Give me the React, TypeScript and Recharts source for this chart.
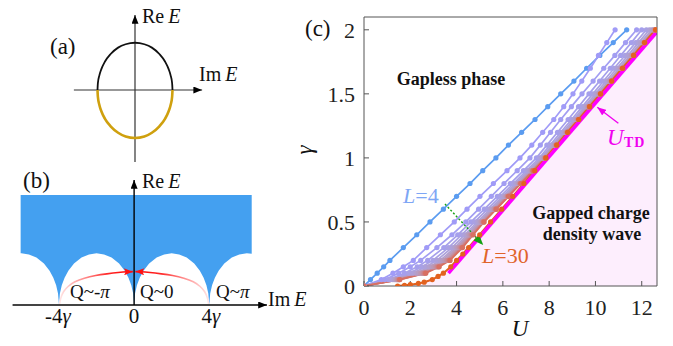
import React from 'react';
import { ComposedChart, Line, Area, XAxis, YAxis } from 'recharts';

const SERIF = '"Liberation Serif", "Times New Roman", Times, serif';

// ---------------- panel (a) ----------------
const ellipseX = [-1, -0.99, -0.95, -0.9, -0.8, -0.65, -0.45, -0.25, 0, 0.25, 0.45, 0.65, 0.8, 0.9, 0.95, 0.99, 1];
const ellipseUpper = [0, 0.18, 0.39, 0.55, 0.76, 0.96, 1.13, 1.22, 1.26, 1.22, 1.13, 0.96, 0.76, 0.55, 0.39, 0.18, 0];
const ellipseLower = [0, -0.18, -0.4, -0.56, -0.77, -0.97, -1.14, -1.24, -1.28, -1.24, -1.14, -0.97, -0.77, -0.56, -0.4, -0.18, 0];
const axisAHx = [-1.63, 1.79];
const axisAHy = [0, 0];
const axisAVx = [0, 0];
const axisAVy = [-1.92, 2.0];

// ---------------- panel (b) ----------------
const archCenters = [-6, -2, 2, 6];
const archOffsets = [-2, -1.95, -1.85, -1.7, -1.5, -1.2, -0.8, -0.4, 0, 0.4, 0.8, 1.2, 1.5, 1.7, 1.85, 1.95, 2];
const archHeights = [0, 0.61, 1.05, 1.45, 1.83, 2.21, 2.53, 2.7, 2.76, 2.7, 2.53, 2.21, 1.83, 1.45, 1.05, 0.61, 0];
const bandEdgesX = [-6.04, 6.26];
const bandEdgesLow = [2.76, 2.74];
const bandTop = 5.87;
const arcLeftX = [-3.97, -3.9, -3.75, -3.5, -3.15, -2.65, -2.05, -1.45, -0.85, -0.35, -0.07];
const arcRightX = [3.97, 3.9, 3.75, 3.5, 3.15, 2.65, 2.05, 1.45, 0.85, 0.35, 0.07];
const arcY = [0.05, 0.38, 0.72, 1.0, 1.24, 1.43, 1.57, 1.66, 1.73, 1.77, 1.78];
const axisBHx = [-6.47, 7.07];
const axisBHy = [0, 0];
const axisBVx = [0, 0];
const axisBVy = [0, 6.67];

// ---------------- panel (c) ----------------
const uTicks = [0, 2, 4, 6, 8, 10, 12];
const gTicks = [0, 0.5, 1, 1.5, 2];
const sizesL = [4, 6, 8, 10, 12, 14, 16, 18, 20, 22, 24, 26, 28, 30];
const gammaGrid = [0, 0.05, 0.1, 0.15, 0.2, 0.3, 0.4, 0.5, 0.6, 0.7, 0.8, 0.9, 1.0, 1.1, 1.2, 1.3, 1.4, 1.5, 1.6, 1.7, 1.8, 1.9, 2.0];
const gamma30 = [0, 0.005, 0.01, 0.02, 0.03, 0.05, 0.075, 0.1, 0.15, 0.2, 0.25, 0.3, 0.4, 0.5, 0.6, 0.7, 0.8, 0.9, 1.0, 1.1, 1.2, 1.3, 1.4, 1.5, 1.6, 1.7, 1.8, 1.9, 2.0];
const U_L4 = [0, 0.28, 0.57, 0.85, 1.12, 1.7, 2.28, 2.85, 3.43, 4.0, 4.58, 5.13, 5.7, 6.24, 6.81, 7.39, 7.94, 8.5, 9.07, 9.62, 10.19, 10.77, 11.35];
const U_L6 = [0, 0.75, 1.25, 1.7, 2.13, 2.71, 3.3, 3.9, 4.45, 5.01, 5.59, 6.18, 6.74, 7.25, 7.72, 8.2, 8.63, 9.03, 9.41, 9.78, 10.13, 10.49, 10.85];
const U_L8 = [0, 0.9, 1.5, 2.0, 2.45, 3.15, 3.8, 4.4, 4.95, 5.5, 6.05, 6.62, 7.17, 7.62, 8.06, 8.5, 8.96, 9.42, 9.9, 10.36, 10.84, 11.3, 11.78];
const U_L10 = [0, 1.05, 1.75, 2.3, 2.75, 3.45, 4.05, 4.62, 5.2, 5.76, 6.32, 6.89, 7.45, 7.9, 8.36, 8.82, 9.27, 9.72, 10.18, 10.64, 11.09, 11.55, 12.0];
const U_L12 = [0, 1.15, 1.95, 2.5, 2.98, 3.65, 4.22, 4.78, 5.34, 5.9, 6.46, 7.02, 7.58, 8.04, 8.5, 8.97, 9.43, 9.89, 10.35, 10.81, 11.28, 11.74, 12.2];
const U_L14 = [0, 1.25, 2.1, 2.67, 3.15, 3.8, 4.35, 4.9, 5.45, 6.0, 6.55, 7.1, 7.66, 8.13, 8.59, 9.06, 9.53, 10.0, 10.46, 10.93, 11.4, 11.86, 12.33];
const U_L16 = [0, 1.32, 2.25, 2.82, 3.3, 3.92, 4.45, 4.98, 5.52, 6.07, 6.62, 7.17, 7.72, 8.19, 8.66, 9.13, 9.6, 10.08, 10.55, 11.02, 11.49, 11.96, 12.43];
const U_L18 = [0, 1.38, 2.35, 2.93, 3.4, 4.0, 4.52, 5.04, 5.58, 6.12, 6.67, 7.21, 7.76, 8.23, 8.71, 9.18, 9.66, 10.13, 10.6, 11.08, 11.55, 12.03, 12.5];
const U_L20 = [0, 1.42, 2.45, 3.02, 3.5, 4.07, 4.57, 5.08, 5.62, 6.16, 6.71, 7.25, 7.79, 8.27, 8.74, 9.22, 9.69, 10.17, 10.64, 11.12, 11.59, 12.07, 12.54];
const U_L22 = [0, 1.46, 2.52, 3.1, 3.57, 4.13, 4.62, 5.12, 5.65, 6.19, 6.73, 7.27, 7.81, 8.29, 8.76, 9.24, 9.72, 10.19, 10.67, 11.14, 11.62, 12.1, 12.57];
const U_L24 = [0, 1.5, 2.58, 3.16, 3.63, 4.18, 4.66, 5.15, 5.68, 6.21, 6.75, 7.29, 7.83, 8.31, 8.78, 9.26, 9.73, 10.21, 10.69, 11.16, 11.64, 12.11, 12.59];
const U_L26 = [0, 1.53, 2.63, 3.21, 3.68, 4.22, 4.69, 5.17, 5.7, 6.23, 6.77, 7.3, 7.84, 8.32, 8.79, 9.27, 9.74, 10.22, 10.7, 11.17, 11.65, 12.12, 12.6];
const U_L28 = [0, 1.55, 2.67, 3.25, 3.72, 4.26, 4.72, 5.19, 5.72, 6.25, 6.78, 7.32, 7.85, 8.33, 8.8, 9.28, 9.75, 10.23, 10.7, 11.18, 11.65, 12.13, 12.6];
const U_L30 = [1.45, 1.75, 2.0, 2.35, 2.6, 2.95, 3.2, 3.43, 3.75, 4.0, 4.27, 4.52, 5.0, 5.47, 5.95, 6.43, 6.91, 7.38, 7.86, 8.33, 8.8, 9.28, 9.75, 10.22, 10.7, 11.17, 11.65, 12.12, 12.6];
const U_byL = [U_L4, U_L6, U_L8, U_L10, U_L12, U_L14, U_L16, U_L18, U_L20, U_L22, U_L24, U_L26, U_L28, U_L30];
const colorsL = ['#5B9CF0', '#A09BF7', '#A29DF2', '#A59FEC', '#A9A1E4', '#ADA1DA', '#B1A0CF', '#B69DC3', '#BB99B5', '#C292A6', '#C98994', '#D07D7E', '#D87062', '#E2621F'];
const utdU = [3.65, 12.66];
const utdG = [0.1, 1.985];
const greenArrowU = [3.5, 5.15];
const greenArrowG = [0.64, 0.32];
const utdArrowU = [10.99, 10.08];
const utdArrowG = [1.27, 1.395];
const pinkEdgeU = [12.66];
const pinkEdgeG = [2.0];

// ---------- built tables ----------
const zipXY = (xs: number[], ys: number[]) => xs.map((x, i) => ({ x, y: ys[i] }));
const zipUG = (us: number[], gs: number[]) => us.map((u, i) => ({ u, g: gs[i] }));

const upperData = zipXY(ellipseX, ellipseUpper);
const lowerData = zipXY(ellipseX, ellipseLower);
const axisAH = zipXY(axisAHx, axisAHy);
const axisAV = zipXY(axisAVx, axisAVy);

const blueData: { x: number; range: number[] }[] = [];
blueData.push({ x: bandEdgesX[0], range: [bandEdgesLow[0], bandTop] });
archCenters.forEach((c) => {
  archOffsets.forEach((o, i) => {
    const x = c + o;
    if (x >= bandEdgesX[0] && x <= bandEdgesX[1]) blueData.push({ x, range: [archHeights[i], bandTop] });
  });
});
blueData.push({ x: bandEdgesX[1], range: [bandEdgesLow[1], bandTop] });
const arcLeft = zipXY(arcLeftX, arcY);
const arcRight = zipXY(arcRightX, arcY);
const axisBH = zipXY(axisBHx, axisBHy);
const axisBV = zipXY(axisBVx, axisBVy);

const curves = sizesL.map((L, i) => {
  const gs = L === 30 ? gamma30 : gammaGrid;
  return { L, color: colorsL[i], data: gs.map((g, j) => ({ u: U_byL[i][j], g })) };
});
const orangeCurve = curves[curves.length - 1].data;
const pinkData = [...orangeCurve, ...zipUG(pinkEdgeU, pinkEdgeG)];
const utdData = zipUG(utdU, utdG);
const greenArrow = zipUG(greenArrowU, greenArrowG);
const utdArrow = zipUG(utdArrowU, utdArrowG);

const tickStyle = { fontSize: 22, fontFamily: SERIF, fill: '#222' };

export default function App() {
  return (
    <div style={{ position: 'absolute', left: 0, top: 0, width: 673, height: 346, background: '#fff', overflow: 'hidden' }}>
      <svg width={0} height={0} style={{ position: 'absolute' }}>
        <defs>
          <marker id="ahBlack" viewBox="0 0 10 8" refX="10" refY="4" markerWidth="9" markerHeight="7" markerUnits="userSpaceOnUse" orient="auto">
            <path d="M0,0 L10,4 L0,8 Z" fill="#000" />
          </marker>
          <marker id="ahRed" viewBox="0 0 10 8" refX="10" refY="4" markerWidth="10" markerHeight="7" markerUnits="userSpaceOnUse" orient="auto">
            <path d="M0,0 L10,4 L0,8 L2,4 Z" fill="#FF1010" />
          </marker>
          <marker id="ahGreen" viewBox="0 0 10 8" refX="10" refY="4" markerWidth="10" markerHeight="8" markerUnits="userSpaceOnUse" orient="auto">
            <path d="M0,0 L10,4 L0,8 Z" fill="#12A012" />
          </marker>
          <marker id="ahMagenta" viewBox="0 0 10 8" refX="10" refY="4" markerWidth="9" markerHeight="7" markerUnits="userSpaceOnUse" orient="auto">
            <path d="M0,0 L10,4 L0,8 Z" fill="#F000F0" />
          </marker>
          <linearGradient id="redL" x1="0" y1="0" x2="1" y2="0">
            <stop offset="0" stopColor="#FFE4E4" />
            <stop offset="0.35" stopColor="#FF8A8A" />
            <stop offset="0.65" stopColor="#FF2A2A" />
            <stop offset="1" stopColor="#FF0000" />
          </linearGradient>
          <linearGradient id="redR" x1="1" y1="0" x2="0" y2="0">
            <stop offset="0" stopColor="#FFE4E4" />
            <stop offset="0.35" stopColor="#FF8A8A" />
            <stop offset="0.65" stopColor="#FF2A2A" />
            <stop offset="1" stopColor="#FF0000" />
          </linearGradient>
        </defs>
      </svg>

      {/* panel (a) */}
      <div style={{ position: 'absolute', left: 60, top: 0 }}>
        <ComposedChart width={150} height={165} margin={{ top: 0, right: 0, bottom: 0, left: 0 }}>
          <XAxis type="number" dataKey="x" domain={[-2, 2]} hide allowDataOverflow />
          <YAxis type="number" domain={[-2, 2.4]} hide allowDataOverflow />
          <Line data={axisAH} dataKey="y" type="linear" stroke="#333" strokeWidth={1.2} dot={false} activeDot={false} isAnimationActive={false} markerEnd="url(#ahBlack)" />
          <Line data={axisAV} dataKey="y" type="linear" stroke="#333" strokeWidth={1.2} dot={false} activeDot={false} isAnimationActive={false} markerEnd="url(#ahBlack)" />
          <Line data={upperData} dataKey="y" type="monotone" stroke="#111" strokeWidth={1.8} dot={false} activeDot={false} isAnimationActive={false} />
          <Line data={lowerData} dataKey="y" type="monotone" stroke="#CFA00E" strokeWidth={2.6} dot={false} activeDot={false} isAnimationActive={false} />
        </ComposedChart>
      </div>

      {/* panel (b) */}
      <div style={{ position: 'absolute', left: 12, top: 170 }}>
        <ComposedChart width={263} height={150} margin={{ top: 0, right: 0, bottom: 0, left: 0 }}>
          <XAxis type="number" dataKey="x" domain={[-6.5, 7.5]} hide allowDataOverflow />
          <YAxis type="number" domain={[-0.8, 7.2]} hide allowDataOverflow />
          <Area data={blueData} dataKey="range" type="linear" fill="#44A0F0" fillOpacity={1} stroke="none" isAnimationActive={false} activeDot={false} />
          <Line data={arcLeft} dataKey="y" type="natural" stroke="url(#redL)" strokeWidth={1.6} dot={false} activeDot={false} isAnimationActive={false} markerEnd="url(#ahRed)" />
          <Line data={arcRight} dataKey="y" type="natural" stroke="url(#redR)" strokeWidth={1.6} dot={false} activeDot={false} isAnimationActive={false} markerEnd="url(#ahRed)" />
          <Line data={axisBH} dataKey="y" type="linear" stroke="#444" strokeWidth={2} dot={false} activeDot={false} isAnimationActive={false} markerEnd="url(#ahBlack)" />
          <Line data={axisBV} dataKey="y" type="linear" stroke="#000" strokeWidth={1.4} dot={false} activeDot={false} isAnimationActive={false} markerEnd="url(#ahBlack)" />
        </ComposedChart>
      </div>

      {/* panel (c) */}
      <div style={{ position: 'absolute', left: 290, top: 0 }}>
        <ComposedChart width={383} height={346} margin={{ top: 16, right: 15, bottom: 0, left: 0 }}>
          <XAxis type="number" dataKey="u" domain={[0, 12.66]} allowDataOverflow ticks={uTicks} interval={0} tickSize={-5} tickMargin={18} height={60} stroke="#555" tick={tickStyle} />
          <YAxis type="number" domain={[0, 2.1]} allowDataOverflow ticks={gTicks} interval={0} tickSize={-5} tickMargin={14} width={74} stroke="#555" tick={tickStyle} />
          <XAxis xAxisId="top" orientation="top" type="number" dataKey="u" domain={[0, 12.66]} allowDataOverflow ticks={uTicks} interval={0} tickSize={-5} height={1} stroke="#555" tick={false} />
          <YAxis yAxisId="right" orientation="right" type="number" domain={[0, 2.1]} allowDataOverflow ticks={gTicks} interval={0} tickSize={-5} width={1} stroke="#555" tick={false} />
          <Area data={pinkData} dataKey="g" type="linear" fill="#FDEEFD" fillOpacity={1} stroke="none" isAnimationActive={false} activeDot={false} />
          {curves.map((c) => (
            <Line
              key={c.L}
              data={c.data}
              dataKey="g"
              type="linear"
              stroke={c.color}
              strokeWidth={c.L === 30 ? 2.1 : 1.7}
              dot={{ r: 2.6, fill: c.color, stroke: c.color, strokeWidth: 0 }}
              activeDot={false}
              isAnimationActive={false}
            />
          ))}
          <Line data={utdData} dataKey="g" type="linear" stroke="#FF00FF" strokeWidth={3.6} dot={false} activeDot={false} isAnimationActive={false} />
          <Line data={greenArrow} dataKey="g" type="linear" stroke="#12A012" strokeWidth={1.4} strokeDasharray="2 2" dot={false} activeDot={false} isAnimationActive={false} markerEnd="url(#ahGreen)" />
          <Line data={utdArrow} dataKey="g" type="linear" stroke="#F000F0" strokeWidth={1.3} dot={false} activeDot={false} isAnimationActive={false} markerEnd="url(#ahMagenta)" />
        </ComposedChart>
      </div>

      {/* text overlay */}
      <svg width={673} height={346} style={{ position: 'absolute', left: 0, top: 0, pointerEvents: 'none' }} fontFamily={SERIF}>
        <text x={50} y={54} fontSize={23} fill="#111">(a)</text>
        <text x={142} y={23} fontSize={20} fill="#111">Re<tspan fontStyle="italic" dx={4}>E</tspan></text>
        <text x={199} y={81} fontSize={20} fill="#111">Im<tspan fontStyle="italic" dx={4}>E</tspan></text>

        <text x={23} y={188} fontSize={23} fill="#111">(b)</text>
        <text x={142} y={188} fontSize={20} fill="#111">Re<tspan fontStyle="italic" dx={4}>E</tspan></text>
        <text x={268} y={306} fontSize={20} fill="#111">Im<tspan fontStyle="italic" dx={4}>E</tspan></text>
        <text x={70} y={298} fontSize={19} fill="#111">Q~-<tspan fontStyle="italic">π</tspan></text>
        <text x={140} y={298} fontSize={19} fill="#111">Q~0</text>
        <text x={216} y={298} fontSize={19} fill="#111">Q~<tspan fontStyle="italic">π</tspan></text>
        <text x={58} y={323} fontSize={21} fill="#111" textAnchor="middle">-4<tspan fontStyle="italic">γ</tspan></text>
        <text x={134} y={323} fontSize={21} fill="#111" textAnchor="middle">0</text>
        <text x={211} y={323} fontSize={21} fill="#111" textAnchor="middle">4<tspan fontStyle="italic">γ</tspan></text>

        <text x={305} y={36} fontSize={23} fill="#111">(c)</text>
        <text transform="translate(312,150) rotate(-90)" fontSize={23} fontStyle="italic" fill="#111" textAnchor="middle">γ</text>
        <text x={520} y={336} fontSize={23} fontStyle="italic" fill="#111" textAnchor="middle">U</text>
        <text x={451} y={85} fontSize={18} fontWeight="bold" fill="#111" textAnchor="middle">Gapless phase</text>
        <text x={591} y={219} fontSize={18} fontWeight="bold" fill="#111" textAnchor="middle">Gapped charge</text>
        <text x={592} y={240} fontSize={18} fontWeight="bold" fill="#111" textAnchor="middle">density wave</text>
        <text x={403} y={203} fontSize={22} fill="#7EA6F5"><tspan fontStyle="italic">L</tspan>=4</text>
        <text x={482} y={263} fontSize={22} fill="#E0642A"><tspan fontStyle="italic">L</tspan>=30</text>
        <text x={607} y={145} fontSize={23} fontStyle="italic" fill="#F000F0">U</text>
        <text x={624} y={147} fontSize={14} fontWeight="bold" fill="#F000F0" letterSpacing={1}>TD</text>
      </svg>
    </div>
  );
}
